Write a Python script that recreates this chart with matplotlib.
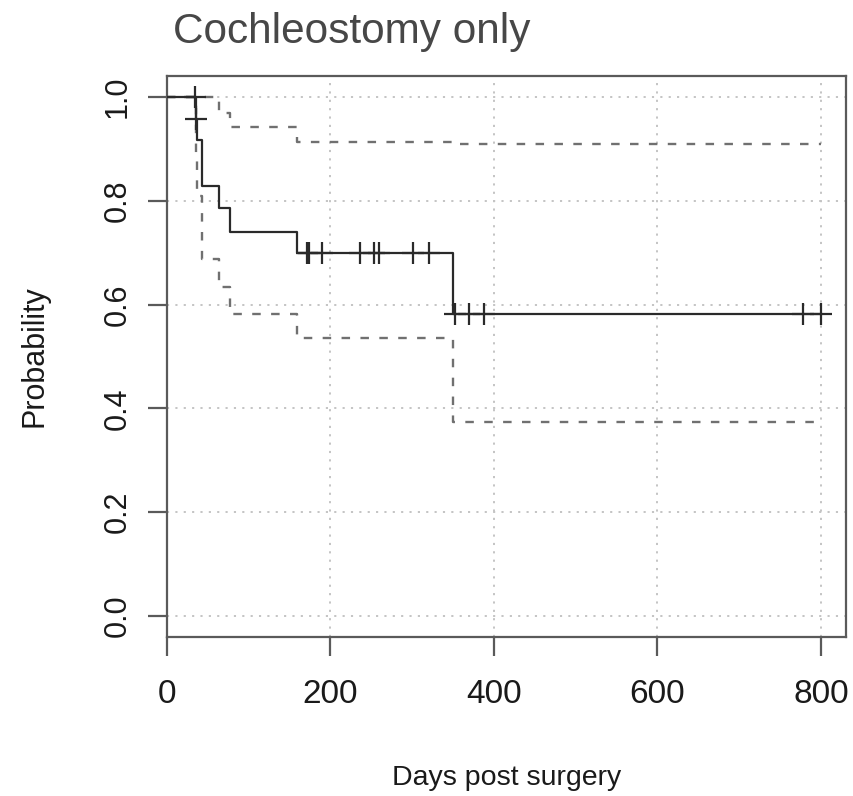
import matplotlib
matplotlib.use("Agg")
import matplotlib.pyplot as plt
import numpy as np

plt.rcParams['font.family'] = ['Liberation Sans', 'DejaVu Sans']

# Kaplan-Meier estimate
event_times = [35.3, 36.5, 42.4, 63.6, 77.0, 158.7, 350.0]
surv = [0.958, 0.917, 0.829, 0.786, 0.740, 0.699, 0.582]
upper = [1.0, 1.0, 1.0, 0.970, 0.943, 0.913, 0.909]
lower = [0.879, 0.810, 0.688, 0.634, 0.582, 0.536, 0.374]
end_time = 800.0

censor_times = [34.5, 35.3, 170.9, 174.0, 189.2, 236.0, 253.6, 259.3, 301.3,
                320.5, 352.0, 369.4, 387.8, 777.6, 800.0]

title = "Cochleostomy only"
xlabel = "Days post surgery"
ylabel = "Probability"
xticks = [0, 200, 400, 600, 800]
yticks = [0.0, 0.2, 0.4, 0.6, 0.8, 1.0]


def step_xy(times, vals, start=1.0, tend=end_time):
    xs = [0.0]
    ys = [start]
    for t, v in zip(times, vals):
        xs += [t, t]
        ys += [ys[-1], v]
    xs.append(tend)
    ys.append(ys[-1])
    return xs, ys


def surv_at(t):
    s = 1.0
    for et, v in zip(event_times, surv):
        if et <= t:
            s = v
    return s


fig = plt.figure(figsize=(8.54, 7.96), dpi=100)
ax = fig.add_axes([167/854, 1-637/796, (846-167)/854, (637-76)/796])

ax.set_xlim(0, 830.6)
ax.set_ylim(-0.0405, 1.0405)

# grid
for xv in xticks[1:]:
    ax.axvline(xv, color='#c4c4c4', lw=1.4, ls=(0, (1.1, 3.2)), zorder=0)
for yv in yticks:
    ax.axhline(yv, color='#c4c4c4', lw=1.4, ls=(0, (1.1, 3.2)), zorder=0)

# confidence bands
xu, yu = step_xy(event_times, upper)
xl, yl = step_xy(event_times, lower)
ax.plot(xu, yu, color='#707070', lw=1.7, ls=(0, (3.6, 4.4)), zorder=2)
ax.plot(xl, yl, color='#707070', lw=1.7, ls=(0, (3.6, 4.4)), zorder=2)

# KM curve
xs, ys = step_xy(event_times, surv)
ax.plot(xs, ys, color='#2a2a2a', lw=1.6, zorder=3)

# censor marks
cy = [surv_at(t) for t in censor_times]
ax.plot(censor_times, cy, ls='none', marker='+', ms=16, mew=1.6,
        color='#2a2a2a', zorder=4)

for s in ax.spines.values():
    s.set_color('#5a5a5a')
    s.set_linewidth(1.6)

ax.set_xticks(xticks)
ax.set_xticklabels([str(v) for v in xticks])
ax.set_yticks(yticks)
ax.set_yticklabels([f"{v:.1f}" for v in yticks], rotation=90, va='center')
ax.tick_params(axis='both', direction='out', length=14, width=1.6,
               color='#5a5a5a', labelcolor='#1a1a1a')
ax.tick_params(axis='x', pad=16, labelsize=24)
ax.tick_params(axis='y', pad=11, labelsize=22)

ax.set_xlabel(xlabel, fontsize=20.5, color='#1a1a1a', labelpad=40)
ax.set_ylabel(ylabel, fontsize=22, color='#1a1a1a', labelpad=38)

fig.text(173/854, 1-43/796, title, fontsize=30.5, color='#474747',
         ha='left', va='baseline')

fig.savefig('out.png', dpi=100)
